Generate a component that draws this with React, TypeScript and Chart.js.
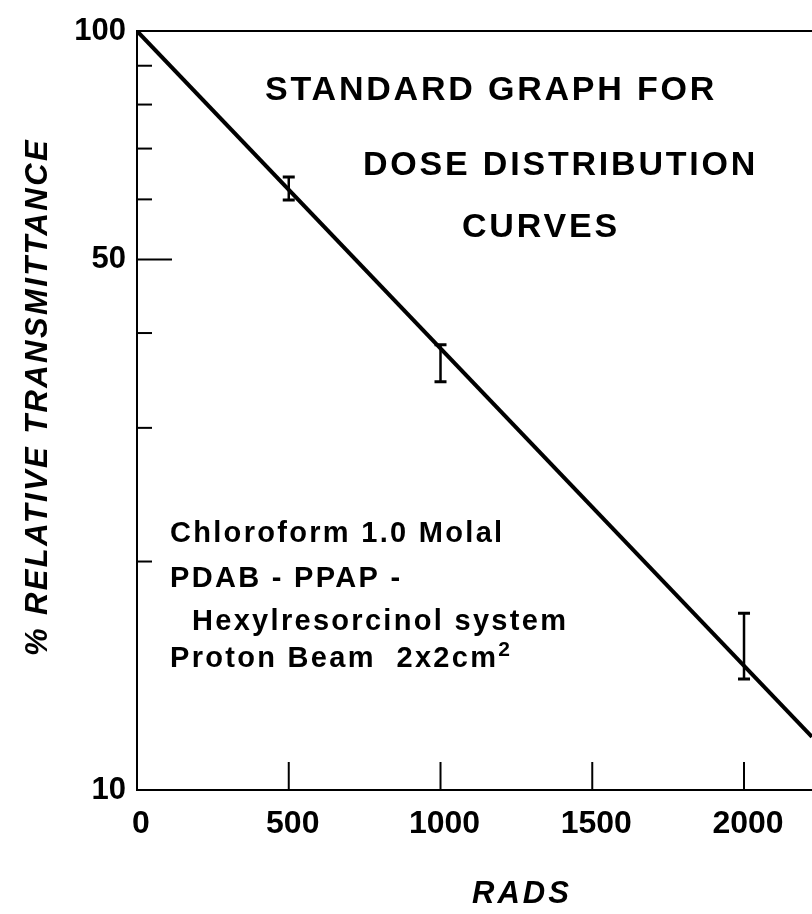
import React, { useEffect, useRef } from "react";
import { Chart, registerables } from "chart.js";

Chart.register(...registerables);

// ---- data ----
const xMin = 0;
const xMax = 2224;
const xTickValues = [0, 500, 1000, 1500, 2000];
const yMin = 10;
const yMax = 100;
const yTickValues = [10, 20, 30, 40, 50, 60, 70, 80, 90, 100];
const yLabelValues = [10, 50, 100];
const yMajorTick = [50];

// fitted straight line (on log scale)
const lineX = [0, 2224];
const lineY = [100, 11.75];

// error bars
const errX = [500, 1000, 2000];
const errLow = [59.9, 34.5, 14.0];
const errHigh = [64.2, 38.6, 17.1];

const titleLines = ["STANDARD GRAPH FOR", "DOSE DISTRIBUTION", "CURVES"];
const noteLines = ["Chloroform 1.0 Molal", "PDAB - PPAP -", "Hexylresorcinol system", "Proton Beam  2x2cm"];
const noteSuperscript = "2";
const yTitle = "% RELATIVE TRANSMITTANCE";
const xTitle = "RADS";

const FONT = "'Liberation Sans', Arial, sans-serif";

function drawText(ctx: any, text: string, x: number, y: number, font: string, spacing: number, align: string = "left") {
  ctx.save();
  ctx.font = font;
  ctx.letterSpacing = spacing + "px";
  ctx.textAlign = align;
  ctx.textBaseline = "alphabetic";
  ctx.fillStyle = "#000";
  ctx.fillText(text, x, y);
  ctx.restore();
}

const decorPlugin = {
  id: "decor",
  afterDraw(chart: any) {
    const ctx = chart.ctx;
    const area = chart.chartArea;
    const xs = chart.scales.x;
    const ys = chart.scales.y;
    ctx.save();
    ctx.strokeStyle = "#000";
    ctx.lineCap = "butt";

    // top frame
    ctx.lineWidth = 2;
    ctx.beginPath();
    ctx.moveTo(area.left - 1, area.top);
    ctx.lineTo(area.right, area.top);
    ctx.stroke();

    // inside y ticks
    for (const t of ys.ticks) {
      const v = t.value;
      if (v === yMin || v === yMax) continue;
      const py = ys.getPixelForValue(v);
      const len = yMajorTick.includes(v) ? 35 : 15;
      ctx.beginPath();
      ctx.moveTo(area.left, py);
      ctx.lineTo(area.left + len, py);
      ctx.stroke();
    }
    // inside x ticks
    for (const t of xs.ticks) {
      const v = t.value;
      if (v === xMin) continue;
      const px = xs.getPixelForValue(v);
      ctx.beginPath();
      ctx.moveTo(px, area.bottom);
      ctx.lineTo(px, area.bottom - 28);
      ctx.stroke();
    }

    // error bars
    for (let i = 0; i < errX.length; i++) {
      const px = xs.getPixelForValue(errX[i]);
      const pLo = ys.getPixelForValue(errLow[i]);
      const pHi = ys.getPixelForValue(errHigh[i]);
      ctx.lineWidth = 2.5;
      ctx.beginPath();
      ctx.moveTo(px, pLo);
      ctx.lineTo(px, pHi);
      ctx.stroke();
      ctx.lineWidth = 3;
      ctx.beginPath();
      ctx.moveTo(px - 6, pLo);
      ctx.lineTo(px + 6, pLo);
      ctx.moveTo(px - 6, pHi);
      ctx.lineTo(px + 6, pHi);
      ctx.stroke();
    }
    ctx.restore();

    // title block
    const titleFont = `bold 34px ${FONT}`;
    const titleX = [265, 363, 462];
    const titleBase = [100, 175, 237];
    titleLines.forEach((s, i) => drawText(ctx, s, titleX[i], titleBase[i], titleFont, 2.8));

    // note block
    const noteFont = `bold 29px ${FONT}`;
    const noteX = [170, 170, 192, 170];
    const noteBase = [542, 587, 630, 667];
    noteLines.forEach((s, i) => drawText(ctx, s, noteX[i], noteBase[i], noteFont, 2.3));
    ctx.save();
    ctx.font = noteFont;
    (ctx as any).letterSpacing = "2.3px";
    const w = ctx.measureText(noteLines[3]).width;
    ctx.restore();
    drawText(ctx, noteSuperscript, noteX[3] + w, noteBase[3] - 11, `bold 21px ${FONT}`, 0);

    // axis titles
    ctx.save();
    ctx.translate(47, 397);
    ctx.rotate(-Math.PI / 2);
    drawText(ctx, yTitle, 0, 0, `italic bold 31px ${FONT}`, 2.4, "center");
    ctx.restore();
    drawText(ctx, xTitle, 522, 903, `italic bold 31px ${FONT}`, 3, "center");
  },
};

export default function App() {
  const ref = useRef<HTMLCanvasElement | null>(null);
  useEffect(() => {
    const canvas = ref.current;
    if (!canvas) return;
    const chart = new Chart(canvas, {
      type: "line",
      data: {
        datasets: [
          {
            data: lineX.map((x, i) => ({ x, y: lineY[i] })),
            borderColor: "#000",
            borderWidth: 4,
            pointRadius: 0,
            tension: 0,
            fill: false,
          },
        ],
      },
      options: {
        responsive: false,
        animation: false,
        devicePixelRatio: 1,
        layout: { padding: { top: 31, left: 0, right: 0, bottom: 0 } },
        plugins: { legend: { display: false }, tooltip: { enabled: false }, title: { display: false } },
        scales: {
          x: {
            type: "linear",
            min: xMin,
            max: xMax,
            afterFit: (s: any) => {
              s.height = 124;
            },
            afterBuildTicks: (s: any) => {
              s.ticks = xTickValues.map((v) => ({ value: v }));
            },
            grid: { display: false, drawTicks: false },
            border: { display: true, color: "#000", width: 2 },
            ticks: {
              autoSkip: false,
              maxRotation: 0,
              padding: 15,
              labelOffset: 4,
              color: "#000",
              font: { family: FONT, size: 32, weight: "bold" },
              callback: (v: any) => String(v),
            },
          },
          y: {
            type: "logarithmic",
            min: yMin,
            max: yMax,
            afterFit: (s: any) => {
              s.width = 137;
            },
            afterBuildTicks: (s: any) => {
              s.ticks = yTickValues.map((v) => ({ value: v }));
            },
            grid: { display: false, drawTicks: false },
            border: { display: true, color: "#000", width: 2 },
            ticks: {
              autoSkip: false,
              padding: 11,
              color: "#000",
              font: { family: FONT, size: 31, weight: "bold" },
              callback: (v: any) => (yLabelValues.includes(Number(v)) ? String(v) : ""),
            },
          },
        },
      },
      plugins: [decorPlugin],
    } as any);
    return () => chart.destroy();
  }, []);
  return (
    <div style={{ position: "absolute", left: 0, top: 0, width: 812, height: 914, background: "#fff" }}>
      <canvas ref={ref} width={812} height={914} style={{ width: 812, height: 914, display: "block" }} />
    </div>
  );
}
